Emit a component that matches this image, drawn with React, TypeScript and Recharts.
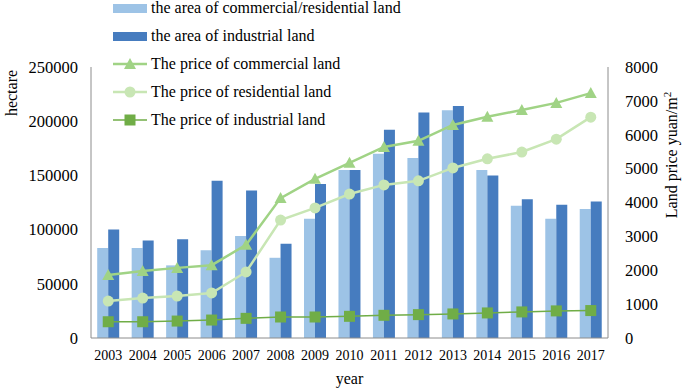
import React from "react";
import {
  ComposedChart,
  Bar,
  Line,
  XAxis,
  YAxis
} from "recharts";

const years = ["2003", "2004", "2005", "2006", "2007", "2008", "2009", "2010", "2011", "2012", "2013", "2014", "2015", "2016", "2017"];
const areaCommRes = [83000, 83000, 67000, 81000, 94000, 74000, 110000, 155000, 170000, 166000, 210000, 155000, 122000, 110000, 119000];
const areaIndustrial = [100000, 90000, 91000, 145000, 136000, 87000, 142000, 155000, 192000, 208000, 214000, 150000, 128000, 123000, 126000];
const priceCommercial = [1860, 1980, 2070, 2150, 2750, 4130, 4700, 5170, 5640, 5820, 6290, 6530, 6730, 6940, 7230];
const priceResidential = [1090, 1180, 1240, 1330, 1950, 3480, 3840, 4250, 4520, 4640, 5020, 5290, 5490, 5870, 6520];
const priceIndustrial = [480, 480, 500, 530, 580, 620, 620, 640, 670, 690, 710, 740, 770, 800, 810];

const leftTicks = [0, 50000, 100000, 150000, 200000, 250000];
const rightTicks = [0, 1000, 2000, 3000, 4000, 5000, 6000, 7000, 8000];

const data = years.map((y, i) => ({
  year: y,
  areaCR: areaCommRes[i],
  areaInd: areaIndustrial[i],
  pCom: priceCommercial[i],
  pRes: priceResidential[i],
  pInd: priceIndustrial[i]
}));

const LIGHT_BAR = "#9DC3E6";
const DARK_BAR = "#467CBF";
const COM = "#A0D385";
const RES = "#C8E6B4";
const IND = "#70AD47";
const AXIS = "#8C8C8C";
const FONT = "'Liberation Serif', 'Times New Roman', serif";

const Triangle = (props: any) => {
  const { cx, cy, index } = props;
  if (cx == null || cy == null) return <g key={index} />;
  return <polygon key={index} points={`${cx},${cy - 6} ${cx - 6},${cy + 5} ${cx + 6},${cy + 5}`} fill={COM} />;
};
const Circle = (props: any) => {
  const { cx, cy, index } = props;
  if (cx == null || cy == null) return <g key={index} />;
  return <circle key={index} cx={cx} cy={cy} r={5.5} fill={RES} />;
};
const Square = (props: any) => {
  const { cx, cy, index } = props;
  if (cx == null || cy == null) return <g key={index} />;
  return <rect key={index} x={cx - 5.5} y={cy - 5.5} width={11} height={11} fill={IND} />;
};

const legendItems = [
  { label: "the area of commercial/residential land", kind: "bar", color: LIGHT_BAR },
  { label: "the area of industrial land", kind: "bar", color: DARK_BAR },
  { label: "The price of commercial land", kind: "tri", color: COM },
  { label: "The price of residential land", kind: "circ", color: RES },
  { label: "The price of industrial land", kind: "sq", color: IND }
];

const ChartLegend = () => (
  <svg width={320} height={135} style={{ position: "absolute", left: 113, top: 0, overflow: "visible" }}>
    {legendItems.map((it, i) => {
      const y = 8 + i * 28;
      return (
        <g key={it.label}>
          {it.kind === "bar" ? (
            <rect x={0} y={y - 4} width={34} height={9} fill={it.color} />
          ) : (
            <line x1={0} x2={34} y1={y} y2={y} stroke={it.color} strokeWidth={it.kind === "sq" ? 1.5 : 2.5} />
          )}
          {it.kind === "tri" && <polygon points={`17,${y - 6} 11,${y + 5} 23,${y + 5}`} fill={it.color} />}
          {it.kind === "circ" && <circle cx={17} cy={y} r={5.5} fill={it.color} />}
          {it.kind === "sq" && <rect x={11.5} y={y - 5.5} width={11} height={11} fill={it.color} />}
          <text x={38} y={y + 5} fontSize={16} fontFamily={FONT} fill="#000">{it.label}</text>
        </g>
      );
    })}
  </svg>
);

const App: React.FC = () => {
  return (
    <div style={{ position: "absolute", left: 0, top: 0, width: 685, height: 390, background: "#fff" }}>
      <ComposedChart
        width={685}
        height={390}
        data={data}
        margin={{ top: 67, right: 0, left: 0, bottom: 0 }}
        barCategoryGap="18%"
        barGap={0}
      >
        <XAxis
          dataKey="year"
          height={52}
          stroke={AXIS}
          tickLine={false}
          tickMargin={6}
          tick={{ fill: "#000", fontSize: 14, fontFamily: FONT }}
          interval={0}
          label={{ value: "year", position: "insideBottom", offset: 6, fill: "#000", fontSize: 16, fontFamily: FONT }}
        />
        <YAxis
          yAxisId="left"
          width={91}
          domain={[0, 250000]}
          ticks={leftTicks}
          stroke={AXIS}
          tickLine={false}
          tickMargin={7}
          tick={{ fill: "#000", fontSize: 16.5, fontFamily: FONT }}
          label={{
            content: () => (
              <text transform="translate(17,93) rotate(-90)" textAnchor="middle" fontSize={16} fontFamily={FONT} fill="#000">hectare</text>
            )
          }}
        />
        <YAxis
          yAxisId="right"
          orientation="right"
          width={77}
          domain={[0, 8000]}
          ticks={rightTicks}
          stroke={AXIS}
          tickLine={false}
          tickMargin={11}
          tick={{ fill: "#000", fontSize: 16.5, fontFamily: FONT }}
          label={{
            content: () => (
              <text transform="translate(677,155) rotate(-90)" textAnchor="middle" fontSize={16} fontFamily={FONT} fill="#000">
                Land price yuan/m<tspan fontSize={11} dy={-6}>2</tspan>
              </text>
            )
          }}
        />
        <Bar yAxisId="left" dataKey="areaCR" fill={LIGHT_BAR} isAnimationActive={false} />
        <Bar yAxisId="left" dataKey="areaInd" fill={DARK_BAR} isAnimationActive={false} />
        <Line yAxisId="right" dataKey="pCom" type="linear" stroke={COM} strokeWidth={2.5} dot={Triangle} activeDot={false} isAnimationActive={false} />
        <Line yAxisId="right" dataKey="pRes" type="linear" stroke={RES} strokeWidth={2.5} dot={Circle} activeDot={false} isAnimationActive={false} />
        <Line yAxisId="right" dataKey="pInd" type="linear" stroke={IND} strokeWidth={1.5} dot={Square} activeDot={false} isAnimationActive={false} />
      </ComposedChart>
      <ChartLegend />
    </div>
  );
};

export default App;
